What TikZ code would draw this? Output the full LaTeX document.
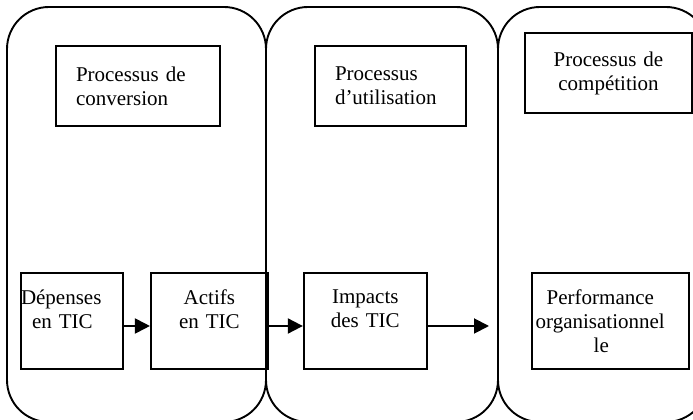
\documentclass[tikz,border=0pt]{standalone}
\usepackage{fontspec}
\setmainfont{Liberation Serif}
\usetikzlibrary{arrows.meta,positioning}

\tikzset{
  zone/.style={line width=1.9pt, rounded corners=42pt},
  box/.style={draw, line width=1.9pt, inner sep=0pt, font=\fontsize{21}{24}\selectfont},
  flow/.style={line width=1.9pt, -{Triangle[length=15pt,width=15pt]}}
}

\begin{document}
\begin{tikzpicture}[x=1pt,y=1pt]
  \clip (0,0) rectangle (693,420);
  %% the three process zones
  \draw[zone] (7,-2) rectangle (266,413);
  \draw[zone] (266,-2) rectangle (498,413);
  \draw[zone] (498,-2) rectangle (708,413);
  %% process titles
  \node[box, align=left, text width=124pt, inner xsep=20pt, minimum height=80pt] (conv) at (138,334) {Processus de\\conversion};
  \node[box, align=left, text width=111pt, inner xsep=20pt, minimum height=80pt] (util) at (390.5,334) {Processus\\d’utilisation};
  \node[box, align=center, text width=167pt, minimum height=80pt] (comp) at (608.5,347) {Processus de\\compétition};
  %% chain of stages
  \node[box, align=left, text width=102pt, minimum height=96pt] (dep) at (72,99) {Dépenses\\\hspace*{11pt}en TIC\\\mbox{}};
  \node[box, align=center, text width=117pt, minimum height=96pt, right=26pt of dep] (act) {Actifs\\en TIC\\\mbox{}};
  \node[box, align=center, text width=123pt, minimum height=96pt, right=34pt of act] (imp) {Impacts\\des TIC\\\mbox{}};
  \node[box, align=left, text width=149pt, inner xsep=4pt, minimum height=96pt, right=103pt of imp] (perf) {\hspace*{11pt}Performance\\organisationnel\\\hspace*{58pt}le};
  \coordinate (perfin) at (489,94);
  %% arrows
  \draw[flow] ([yshift=-5pt]dep.east) -- ([yshift=-5pt]act.west);
  \draw[flow] ([yshift=-5pt]act.east) -- ([yshift=-5pt]imp.west);
  \draw[flow] ([yshift=-5pt]imp.east) -- (perfin);
\end{tikzpicture}
\end{document}
